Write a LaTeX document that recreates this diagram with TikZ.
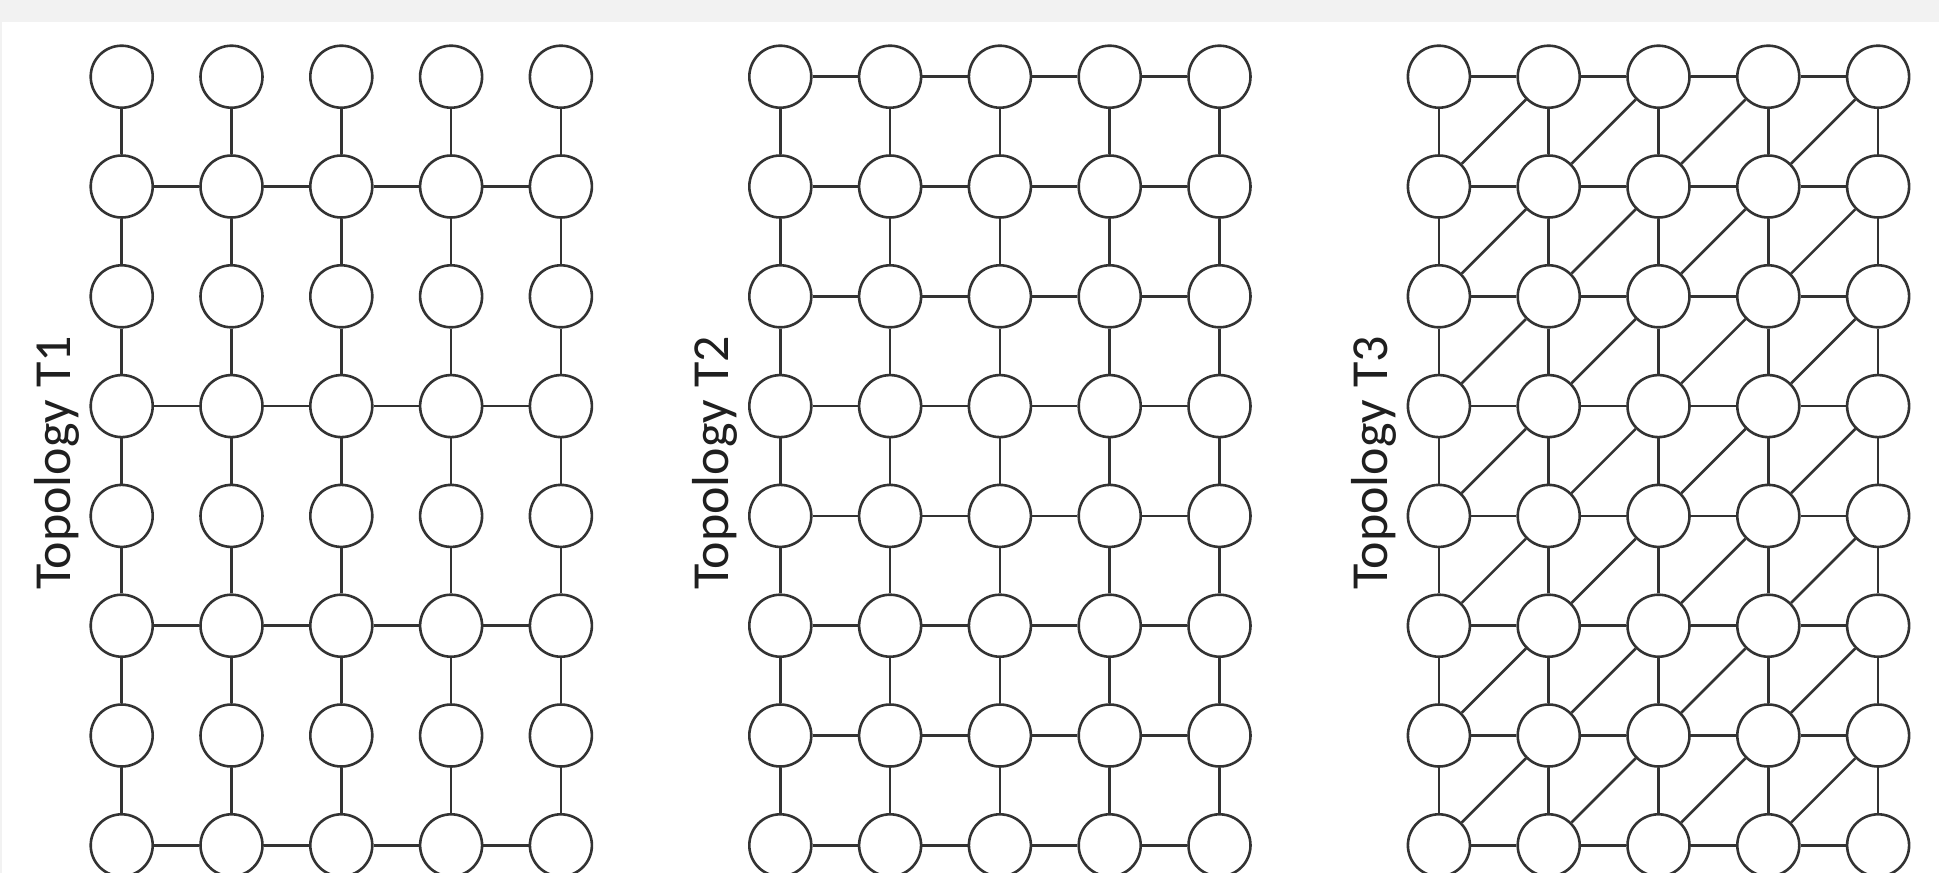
\documentclass[tikz,border=0pt]{standalone}
\usepackage{fontspec}
\setmainfont{Carlito}
\definecolor{band}{HTML}{F2F2F2}
\definecolor{ink}{HTML}{333333}
\tikzset{
  vtx/.style={circle,draw=ink,line width=2.6pt,fill=white,minimum size=62pt,inner sep=0pt},
  link/.style={draw=ink,line width=2.6pt},
  lbl/.style={rotate=90,anchor=base,font=\fontsize{52}{60}\selectfont,text=black!88}
}
\begin{document}
\begin{tikzpicture}[x=1pt,y=-1pt]
\useasboundingbox (0,0) rectangle (1939,873);
\clip (0,0) rectangle (1939,873);
\fill[white] (0,0) rectangle (1939,873);
\fill[band] (0,0) rectangle (1939,22);
\fill[band] (0,0) rectangle (1.5,873);
% nodes
\foreach \g/\xo in {a/121.7,b/780.3,c/1438.9} {
  \foreach \i in {0,...,4} {
    \foreach \j in {0,...,7} {
      \node[vtx] (\g-\i-\j) at ({\xo+109.8*\i},{76.7+109.8*\j}) {};
    }
  }
}
% labels
\node[lbl] (t1) at (70,463) {Topology T1};
\node[lbl] (t2) at (728.6,463) {Topology T2};
\node[lbl] (t3) at (1387.2,463) {Topology T3};
% vertical links, all topologies
\foreach \g in {a,b,c} {
  \foreach \i in {0,...,4} {
    \foreach \j [evaluate=\j as \jn using int(\j+1)] in {0,...,6} {
      \draw[link] (\g-\i-\j) -- (\g-\i-\jn);
    }
  }
}
% horizontal links T1 (every second row)
\foreach \i [evaluate=\i as \in using int(\i+1)] in {0,...,3} {
  \foreach \j in {1,3,5,7} {
    \draw[link] (a-\i-\j) -- (a-\in-\j);
  }
}
% horizontal links T2, T3
\foreach \g in {b,c} {
  \foreach \i [evaluate=\i as \in using int(\i+1)] in {0,...,3} {
    \foreach \j in {0,...,7} {
      \draw[link] (\g-\i-\j) -- (\g-\in-\j);
    }
  }
}
% diagonal links T3
\foreach \i [evaluate=\i as \in using int(\i+1)] in {0,...,3} {
  \foreach \j [evaluate=\j as \jn using int(\j+1)] in {0,...,6} {
    \draw[link] (c-\i-\jn) -- (c-\in-\j);
  }
}
\end{tikzpicture}
\end{document}
